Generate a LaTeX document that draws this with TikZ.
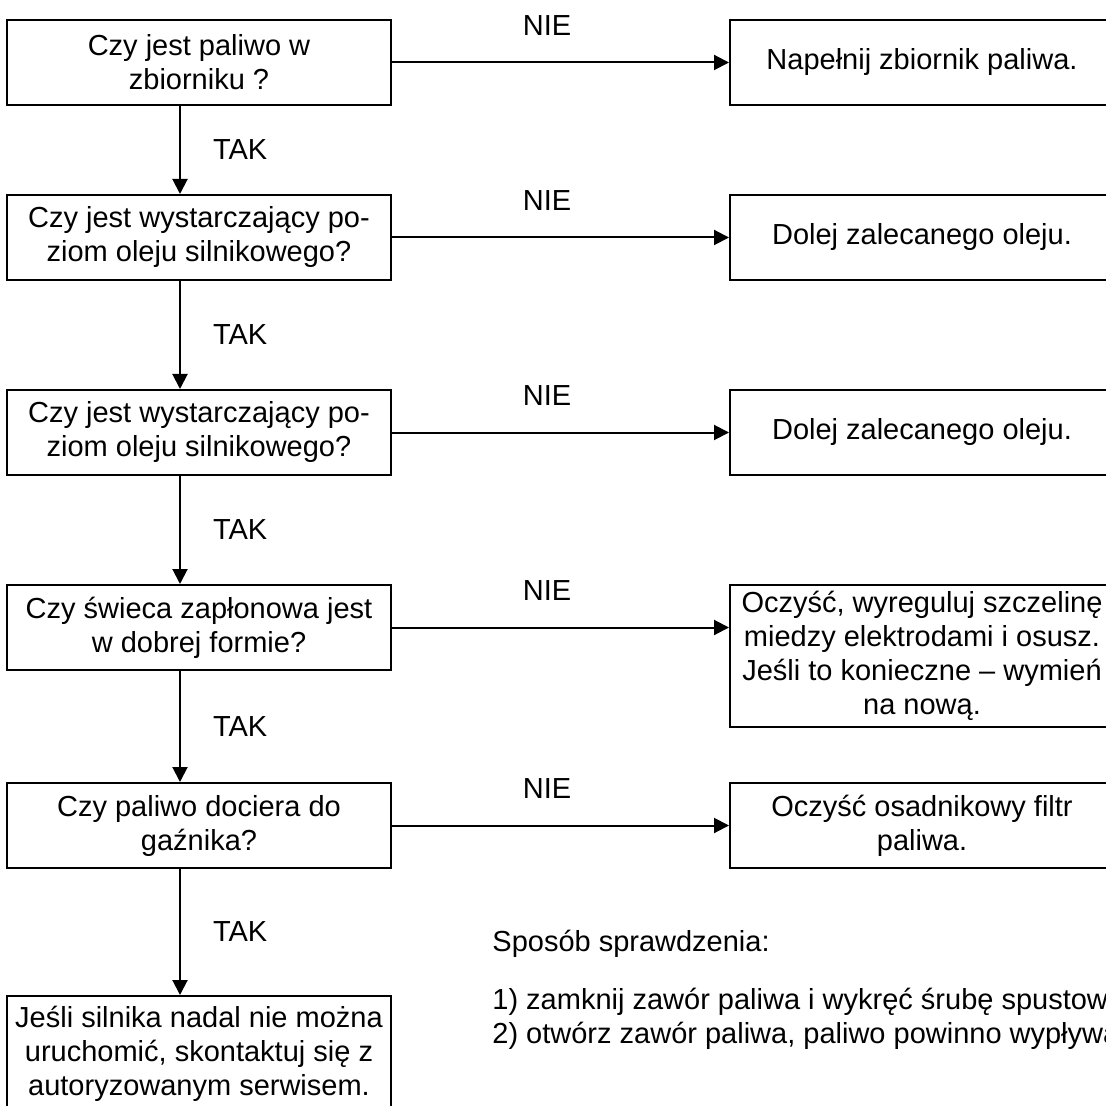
\documentclass[tikz,border=0pt]{standalone}
\usepackage{fontspec}
\setmainfont{Liberation Sans}
\usepackage{tikz}
\usetikzlibrary{arrows.meta, positioning, calc}
\tikzset{
	question/.style={rectangle, draw=black, line width=1pt, minimum width=192pt, minimum height=42.5pt, text centered, align=center, anchor=north, inner sep=2pt},
	remedy/.style  ={rectangle, draw=black, line width=1pt, minimum width=192pt, minimum height=42.5pt, text centered, align=center, anchor=north, inner sep=2pt},
	flowarrow/.style={-{Triangle[length=7.5pt, width=7.5pt]}, line width=1pt},
	% labels on the connectors
	lbl/.style     ={inner sep=0pt},
}

\begin{document}
\begin{tikzpicture}[x=0.5pt, y=-0.5pt, font=\fontsize{14.5}{17}\selectfont]
	\useasboundingbox (0,0) rectangle (1106,1106);
	\node[question] (q1) at (199,19) {Czy jest paliwo w\\ zbiorniku ?};
	\node[question] (q2) at (199,194) {Czy jest wystarczający po-\\ ziom oleju silnikowego?};
	\node[question] (q3) at (199,389) {Czy jest wystarczający po-\\ ziom oleju silnikowego?};
	\node[question] (q4) at (199,584) {Czy świeca zapłonowa jest\\ w dobrej formie?};
	\node[question] (q5) at (199,782) {Czy paliwo dociera do\\ gaźnika?};
	\node[question, minimum height=57.5pt] (end) at (199,995) {Jeśli silnika nadal nie można\\ uruchomić, skontaktuj się z\\ autoryzowanym serwisem.};
	\node[remedy] (f1) at (922,19) {Napełnij zbiornik paliwa.};
	\node[remedy] (f2) at (922,194) {Dolej zalecanego oleju.};
	\node[remedy] (f3) at (922,389) {Dolej zalecanego oleju.};
	\node[remedy, minimum height=71pt] (f4) at (922,584) {Oczyść, wyreguluj szczelinę\\ miedzy elektrodami i osusz.\\ Jeśli to konieczne – wymień\\ na nową.};
	\node[remedy] (f5) at (922,782) {Oczyść osadnikowy filtr\\ paliwa.};
	\node[anchor=north west, inner sep=0pt, align=left] (note) at (492,930) {Sposób sprawdzenia:\\[12pt] 1) zamknij zawór paliwa i wykręć śrubę spustową\\ 2) otwórz zawór paliwa, paliwo powinno wypływać.};
	\coordinate (spine) at (180,0);
	\foreach \a/\b in {q1/q2, q2/q3, q3/q4, q4/q5, q5/end} {
		\draw[flowarrow] (\a.south -| spine) -- (\b.north -| spine) node[lbl, midway, anchor=west, xshift=16pt] {TAK};
	}
	\foreach \a/\b in {q1/f1, q2/f2, q3/f3, q4/f4, q5/f5} {
		\draw[flowarrow] (\a.east) -- (\a.east -| \b.west) node[lbl, pos=0.46, above=13pt] {NIE};
	}
\end{tikzpicture}
\end{document}
